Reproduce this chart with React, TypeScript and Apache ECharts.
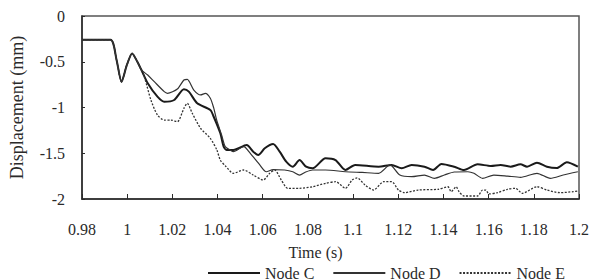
import React, { useEffect, useRef } from "react";
import * as echarts from "echarts";

const xTicks = [0.98, 1.0, 1.02, 1.04, 1.06, 1.08, 1.1, 1.12, 1.14, 1.16, 1.18, 1.2];
const yTicks = [0, -0.5, -1, -1.5, -2];

const commonTime = [0.98, 0.9926, 0.9953, 0.9975, 0.9998, 1.0022, 1.0045, 1.0063];
const commonDisp = [-0.26, -0.26, -0.48, -0.72, -0.54, -0.41, -0.5, -0.59];

const timeC = [
  1.0091, 1.0134, 1.0164, 1.0208, 1.0251, 1.0273, 1.031, 1.0368, 1.0383, 1.0412, 1.0427, 1.044, 1.047,
  1.0529, 1.0558, 1.058, 1.0609, 1.0646, 1.0675, 1.0704, 1.0733, 1.0763, 1.0792, 1.0821, 1.0878, 1.0922,
  1.0966, 1.1009, 1.1113, 1.1171, 1.1215, 1.1259, 1.1316, 1.1354, 1.1391, 1.1448, 1.1491, 1.1551, 1.161,
  1.1653, 1.1697, 1.1741, 1.177, 1.1814, 1.1858, 1.1902, 1.1946, 1.1995,
];
const nodeC = [
  -0.736, -0.882, -0.937, -0.918, -0.801, -0.827, -0.954, -1.027, -1.101, -1.279, -1.428, -1.464, -1.464,
  -1.41, -1.483, -1.519, -1.446, -1.399, -1.483, -1.592, -1.647, -1.574, -1.647, -1.664, -1.555, -1.574,
  -1.683, -1.628, -1.647, -1.628, -1.664, -1.628, -1.647, -1.683, -1.617, -1.647, -1.683, -1.621, -1.639,
  -1.628, -1.647, -1.621, -1.647, -1.603, -1.647, -1.661, -1.599, -1.647,
];

const timeD = [
  1.0091, 1.012, 1.0164, 1.0178, 1.0222, 1.0251, 1.0266, 1.0295, 1.0325, 1.0346, 1.0368, 1.0383, 1.0396,
  1.0418, 1.0434, 1.0456, 1.047, 1.0516, 1.0545, 1.0587, 1.0616, 1.0646, 1.0697, 1.0733, 1.0763, 1.079,
  1.0821, 1.0878, 1.0966, 1.104, 1.1113, 1.1163, 1.1207, 1.1259, 1.1316, 1.136, 1.1404, 1.1448, 1.1508,
  1.1535, 1.1573, 1.1623, 1.1683, 1.1741, 1.1814, 1.1873, 1.193, 1.1995,
];
const nodeD = [
  -0.645, -0.718, -0.827, -0.845, -0.798, -0.699, -0.692, -0.809, -0.863, -0.845, -0.899, -1.005, -1.137,
  -1.301, -1.428, -1.464, -1.483, -1.428, -1.501, -1.628, -1.702, -1.678, -1.683, -1.702, -1.738, -1.705,
  -1.683, -1.683, -1.702, -1.71, -1.719, -1.628, -1.738, -1.756, -1.738, -1.774, -1.738, -1.705, -1.702,
  -1.719, -1.774, -1.738, -1.749, -1.763, -1.719, -1.774, -1.738, -1.702,
];

const timeE = [
  1.0076, 1.0105, 1.0134, 1.0164, 1.0193, 1.0222, 1.0251, 1.0266, 1.0288, 1.0325, 1.0368, 1.0397, 1.0412,
  1.0435, 1.047, 1.0516, 1.0558, 1.0602, 1.0631, 1.0653, 1.0682, 1.0711, 1.0763, 1.0821, 1.0879, 1.0923,
  1.0966, 1.0996, 1.1018, 1.1053, 1.1091, 1.1135, 1.1171, 1.1201, 1.1228, 1.1288, 1.1376, 1.142, 1.1434,
  1.1456, 1.1469, 1.1491, 1.1551, 1.1573, 1.1588, 1.1601, 1.1639, 1.1683, 1.1719, 1.1749, 1.1814, 1.1858,
  1.1916, 1.1975, 1.1995,
];
const nodeE = [
  -0.663, -0.918, -1.082, -1.137, -1.137, -1.155, -1.009, -0.954, -1.063, -1.227, -1.337, -1.464, -1.574,
  -1.639, -1.719, -1.683, -1.738, -1.792, -1.719, -1.683, -1.792, -1.883, -1.883, -1.866, -1.828, -1.811,
  -1.883, -1.792, -1.77, -1.847, -1.902, -1.811, -1.811, -1.902, -1.931, -1.902, -1.894, -1.866, -1.92,
  -1.866, -1.92, -1.967, -1.967, -1.902, -1.902, -1.945, -1.931, -1.894, -1.883, -1.938, -1.866, -1.902,
  -1.931, -1.92, -1.913,
];

const seriesNames = ["Node C", "Node D", "Node E"];

function pairs(t: number[], v: number[]) {
  const allT = commonTime.concat(t);
  const allV = commonDisp.concat(v);
  return allT.map((x, i) => [x, allV[i]]);
}

export default function App() {
  const ref = useRef<HTMLDivElement>(null);
  useEffect(() => {
    if (!ref.current) return;
    const chart = echarts.init(ref.current, null, { renderer: "svg" });
    const font = "Liberation Serif";
    const ink = "#2a2a2a";
    const fmt = (v: number) => String(parseFloat(v.toFixed(2)));
    chart.setOption({
      animation: false,
      backgroundColor: "#ffffff",
      textStyle: { fontFamily: font, color: ink },
      grid: {
        left: 77,
        right: 13,
        top: 16,
        bottom: 81,
        show: true,
        borderColor: "#555",
        borderWidth: 1.5,
        containLabel: false,
      },
      legend: {
        data: seriesNames,
        left: 207,
        top: 265,
        padding: 0,
        itemWidth: 52,
        itemHeight: 12,
        itemGap: 18,
        itemTextGap: 5,
        itemStyle: { opacity: 0 },
        textStyle: { fontFamily: font, fontSize: 16, color: ink, lineHeight: 13 },
      },
      xAxis: {
        type: "value",
        min: xTicks[0],
        max: xTicks[xTicks.length - 1],
        interval: 0.02,
        name: "Time (s)",
        nameLocation: "middle",
        nameGap: 45,
        nameTextStyle: { fontFamily: font, fontSize: 16, color: ink, padding: [0, 30, 0, 0] },
        axisLine: { show: true, onZero: false, lineStyle: { color: ink, width: 1.5 } },
        axisTick: { show: true, inside: true, length: 5, lineStyle: { color: ink } },
        splitLine: { show: false },
        axisLabel: { margin: 22, fontSize: 16, fontFamily: font, color: ink, formatter: fmt },
      },
      yAxis: {
        type: "value",
        min: yTicks[yTicks.length - 1],
        max: yTicks[0],
        interval: 0.5,
        name: "Displacement (mm)",
        nameLocation: "middle",
        nameGap: 56,
        nameTextStyle: { fontFamily: font, fontSize: 18, color: ink },
        axisLine: { show: true, onZero: false, lineStyle: { color: ink, width: 1.5 } },
        axisTick: { show: true, inside: true, length: 3, lineStyle: { color: ink } },
        splitLine: { show: false },
        axisLabel: { margin: 17, fontSize: 16, fontFamily: font, color: ink, formatter: fmt },
      },
      series: [
        {
          name: seriesNames[0],
          type: "line",
          symbol: "none",
          smooth: 0.25,
          data: pairs(timeC, nodeC),
          lineStyle: { color: "#1a1a1a", width: 2 },
          itemStyle: { color: "#1a1a1a" },
        },
        {
          name: seriesNames[1],
          type: "line",
          symbol: "none",
          smooth: 0.25,
          data: pairs(timeD, nodeD),
          lineStyle: { color: "#333", width: 1.2 },
          itemStyle: { color: "#333" },
        },
        {
          name: seriesNames[2],
          type: "line",
          symbol: "none",
          smooth: 0.25,
          data: pairs(timeE, nodeE),
          lineStyle: { color: "#333", width: 1.3, type: [2, 1.5] },
          itemStyle: { color: "#333" },
        },
      ],
    });
    return () => chart.dispose();
  }, []);
  return (
    <div
      ref={ref}
      style={{ position: "absolute", left: 0, top: 0, width: 592, height: 280 }}
    />
  );
}
